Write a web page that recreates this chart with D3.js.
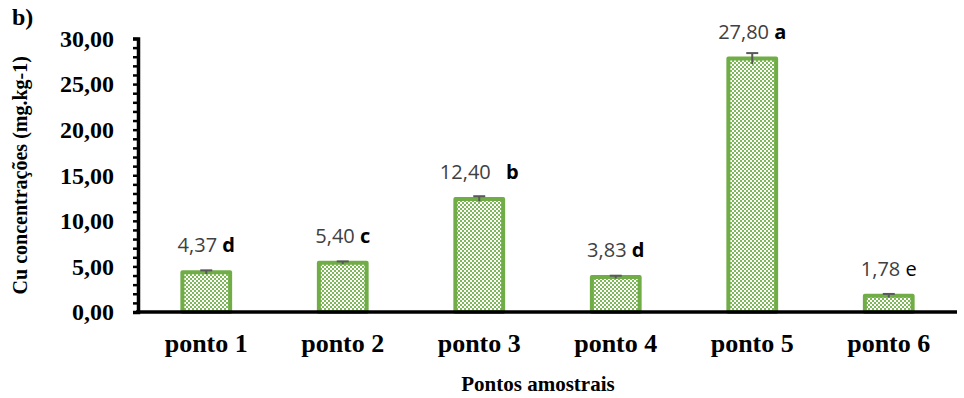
<!DOCTYPE html>
<html>
<head>
<meta charset="utf-8">
<script src="https://cdn.jsdelivr.net/npm/d3@7/dist/d3.min.js"></script>
<style>
  html, body { margin: 0; padding: 0; background: #fff; }
  svg { display: block; }
</style>
</head>
<body>
<svg id="chart" width="964" height="398"></svg>
<script>
// Cu concentrations per sampling point
const categories = ["ponto 1", "ponto 2", "ponto 3", "ponto 4", "ponto 5", "ponto 6"];
const values = [4.37, 5.40, 12.40, 3.83, 27.80, 1.78];
const errors = [0.2, 0.15, 0.3, 0.15, 0.6, 0.2];
const letters = ["d", "c", "b", "d", "a", "e"];
const yTicks = [0, 5, 10, 15, 20, 25, 30];

const svg = d3.select("#chart");
const margin = { left: 138, right: 7, top: 38.5, bottom: 86 };
const W = 964, H = 398;

const x = d3.scaleBand().domain(categories)
  .range([margin.left, W - margin.right]).paddingInner(0.65).paddingOuter(0.325);
const y = d3.scaleLinear().domain([0, 30]).range([H - margin.bottom, margin.top]);

const green = "#70AD47";
const fmt = v => d3.format(".2f")(v).replace(".", ",");

// checkered fill for the bars
const defs = svg.append("defs");
const pat = defs.append("pattern").attr("id", "checks")
  .attr("patternUnits", "userSpaceOnUse").attr("width", 4).attr("height", 4);
pat.append("rect").attr("width", 4).attr("height", 4).attr("fill", "#ffffff");
pat.append("rect").attr("x", 0).attr("y", 0).attr("width", 2).attr("height", 2).attr("fill", "#7fb85a");
pat.append("rect").attr("x", 2).attr("y", 2).attr("width", 2).attr("height", 2).attr("fill", "#7fb85a");

// bars
svg.append("g").selectAll("rect").data(categories).join("rect")
  .attr("x", d => x(d))
  .attr("width", x.bandwidth())
  .attr("y", (d, i) => y(values[i]))
  .attr("height", (d, i) => y(0) - y(values[i]))
  .attr("fill", "url(#checks)")
  .attr("stroke", green).attr("stroke-width", 4)
  .attr("stroke-linejoin", "round");

// error bars
const eb = svg.append("g").attr("stroke", "#595959").attr("stroke-width", 2);
categories.forEach((c, i) => {
  const cx = x(c) + x.bandwidth() / 2;
  eb.append("line").attr("x1", cx).attr("x2", cx)
    .attr("y1", y(values[i] - errors[i])).attr("y2", y(values[i] + errors[i]));
  eb.append("line").attr("x1", cx - 6).attr("x2", cx + 6)
    .attr("y1", y(values[i] + errors[i])).attr("y2", y(values[i] + errors[i]));
});

// y axis with minor ticks
const yAxis = d3.axisLeft(y).tickValues(d3.range(0, 31, 1)).tickSize(5).tickFormat("");
const gy = svg.append("g").attr("transform", `translate(${margin.left},0)`).call(yAxis);
gy.select(".domain").attr("stroke", "#000").attr("stroke-width", 3.5);
gy.selectAll(".tick line").attr("stroke", "#000").attr("stroke-width", 2.5);

// y tick labels
svg.append("g").selectAll("text").data(yTicks).join("text")
  .attr("x", margin.left - 24)
  .attr("y", d => y(d))
  .attr("dy", "0.35em")
  .attr("text-anchor", "end")
  .attr("font-family", "Liberation Serif, Times New Roman, serif")
  .attr("font-weight", "bold").attr("font-size", 24)
  .text(d => fmt(d));

// x axis
const xAxis = d3.axisBottom(x).tickSize(0).tickFormat("");
const gx = svg.append("g").attr("transform", `translate(0,${y(0)})`).call(xAxis);
gx.select(".domain").attr("stroke", "#000").attr("stroke-width", 3.5)
  .attr("d", `M${margin.left - 2},0H${W - margin.right}`);

// category labels
svg.append("g").selectAll("text").data(categories).join("text")
  .attr("x", d => x(d) + x.bandwidth() / 2)
  .attr("y", y(0) + 40)
  .attr("text-anchor", "middle")
  .attr("font-family", "Liberation Serif, Times New Roman, serif")
  .attr("font-weight", "bold").attr("font-size", 26)
  .text(d => d);

// value + significance letter labels
const lab = svg.append("g").selectAll("text").data(categories).join("text")
  .attr("x", d => x(d) + x.bandwidth() / 2)
  .attr("y", (d, i) => y(values[i]) - 20)
  .attr("text-anchor", "middle")
  .attr("font-family", "Open Sans, sans-serif")
  .attr("font-size", 20);
lab.append("tspan").attr("fill", "#404040").text((d, i) => fmt(values[i]));
lab.append("tspan").attr("fill", "#000")
  .attr("font-weight", (d, i) => letters[i] === "e" ? "normal" : "bold")
  .text((d, i) => (letters[i] === "b" ? "\u2002\u00a0" : "\u00a0") + letters[i]);

// axis titles
svg.append("text")
  .attr("transform", `translate(27,${(y(0) + y(30)) / 2}) rotate(-90)`)
  .attr("text-anchor", "middle")
  .attr("font-family", "Liberation Serif, Times New Roman, serif")
  .attr("font-weight", "bold").attr("font-size", 20)
  .text("Cu concentrações (mg.kg-1)");

svg.append("text")
  .attr("x", 538).attr("y", 391)
  .attr("text-anchor", "middle")
  .attr("font-family", "Liberation Serif, Times New Roman, serif")
  .attr("font-weight", "bold").attr("font-size", 21)
  .text("Pontos amostrais");

svg.append("text")
  .attr("x", 12).attr("y", 25)
  .attr("font-family", "Liberation Serif, Times New Roman, serif")
  .attr("font-weight", "bold").attr("font-size", 24)
  .text("b)");
</script>
</body>
</html>
